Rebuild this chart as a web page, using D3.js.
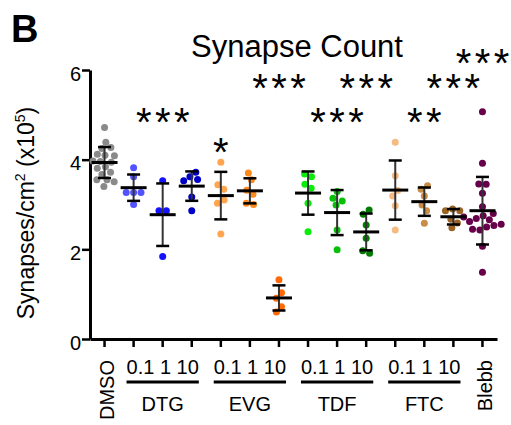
<!DOCTYPE html>
<html>
<head>
<meta charset="utf-8">
<script src="https://cdn.jsdelivr.net/npm/d3@7"></script>
<style>
  body { margin: 0; background: #fff; }
  text { font-family: "Liberation Sans", Arial, sans-serif; fill: #000; }
</style>
</head>
<body>
<svg id="chart"></svg>
<script>
// categories along the x axis
const groups = ["DMSO", "DTG 0.1", "DTG 1", "DTG 10", "EVG 0.1", "EVG 1", "EVG 10",
                "TDF 0.1", "TDF 1", "TDF 10", "FTC 0.1", "FTC 1", "FTC 10", "Blebb"];
const drugs = ["DTG", "EVG", "TDF", "FTC"];
const concLabels = ["0.1", "1", "10"];
const yTicks = [0, 2, 4, 6];

// synapses/cm2 (x10^5), one array per condition
const dmso  = [4.72, 4.39, 4.27, 4.25, 4.12, 4.10, 4.09, 3.97, 3.96, 3.94, 3.84, 3.81, 3.72, 3.67, 3.55, 3.55, 3.51, 3.40];
const dtg01 = [3.82, 3.62, 3.27, 3.27, 3.27, 3.00];
const dtg1  = [3.53, 2.86, 2.86, 1.84];
const dtg10 = [3.72, 3.62, 3.56, 3.53, 3.17, 2.86];
const evg01 = [3.94, 3.44, 3.34, 3.10, 3.03, 2.34];
const evg1  = [3.70, 3.55, 3.32, 3.23, 3.03, 3.00];
const evg10 = [1.32, 1.03, 0.91, 0.72, 0.60];
const tdf01 = [3.68, 3.62, 3.45, 3.36, 3.03, 2.39];
const tdf1  = [3.29, 3.14, 3.08, 2.99, 2.43, 1.99];
const tdf10 = [2.88, 2.78, 2.54, 2.25, 1.97, 1.91];
const ftc01 = [4.39, 3.64, 3.31, 3.19, 2.97, 2.43];
const ftc1  = [3.42, 3.34, 3.19, 2.99, 2.86, 2.58];
const ftc10 = [2.90, 2.86, 2.86, 2.67, 2.59, 2.48];
const blebb = [5.07, 3.92, 3.46, 3.45, 3.25, 2.95, 2.80, 2.75, 2.72, 2.69, 2.66, 2.62, 2.56, 2.53, 2.50, 2.45, 2.43, 2.07, 1.49];
const series = [dmso, dtg01, dtg1, dtg10, evg01, evg1, evg10, tdf01, tdf1, tdf10, ftc01, ftc1, ftc10, blebb];

const colors = ["#8a8a8a", "#5252ff", "#1212ff", "#0000c8", "#ffa54f", "#ff8a1c", "#ff6a06",
                "#0aec0a", "#08c008", "#047a04", "#f6bb82", "#c98d4a", "#9a6425", "#67004a"];

// significance marks
const starGroups = ["DTG 1", "EVG 0.1", "EVG 10", "TDF 1", "TDF 10", "FTC 1", "FTC 10", "Blebb"];
const starText   = ["***", "*", "***", "***", "***", "**", "***", "***"];
const starLevel  = [4.95, 4.28, 5.71, 4.95, 5.71, 4.95, 5.71, 6.27];

const W = 511, H = 425;
const margin = {top: 70, right: 14, bottom: 86, left: 90};
const width = W - margin.left - margin.right;
const height = H - margin.top - margin.bottom;
const radius = 3.5;

const svg = d3.select("#chart").attr("width", W).attr("height", H);
const g = svg.append("g").attr("transform", `translate(${margin.left},${margin.top})`);

const x = d3.scaleBand().domain(groups).range([0, width]);
const y = d3.scaleLinear().domain([0, 6]).range([height, 0]);
const cx = d => x(d) + x.bandwidth() / 2;

// panel letter + title
svg.append("text").attr("x", 11).attr("y", 42)
    .attr("font-size", 38).attr("font-weight", "bold").text("B");
svg.append("text").attr("x", 297).attr("y", 57)
    .attr("text-anchor", "middle").attr("font-size", 31).text("Synapse Count");

// y axis
const yAxis = g.append("g")
    .call(d3.axisLeft(y).tickValues(yTicks).tickFormat(d3.format("d"))
        .tickSize(8).tickSizeOuter(0).tickPadding(1));
yAxis.attr("font-family", null).attr("font-size", 20);
yAxis.select(".domain").attr("stroke-width", 3).attr("stroke", "#000");
yAxis.selectAll(".tick line").attr("stroke-width", 2.5).attr("stroke", "#000");
yAxis.selectAll(".tick text").attr("dy", "0.5em").attr("fill", "#000");

// y label with superscripts
const yLab = svg.append("text")
    .attr("transform", "translate(34,213) rotate(-90)")
    .attr("text-anchor", "middle").attr("font-size", 23);
yLab.append("tspan").text("Synapses/cm");
yLab.append("tspan").attr("font-size", 14).attr("dy", -9).text("2");
yLab.append("tspan").attr("dy", 9).text(" (x10");
yLab.append("tspan").attr("font-size", 14).attr("dy", -9).text("5");
yLab.append("tspan").attr("dy", 9).text(")");

// x axis
const xAxis = g.append("g").attr("transform", `translate(0,${height})`)
    .call(d3.axisBottom(x).tickSize(8).tickSizeOuter(0).tickFormat(""));
xAxis.select(".domain").attr("stroke-width", 3).attr("stroke", "#000");
xAxis.selectAll(".tick line").attr("stroke-width", 2.5).attr("stroke", "#000");

// rotated labels for DMSO and Blebb
["DMSO", "Blebb"].forEach(name => {
    g.append("text")
        .attr("transform", `translate(${cx(name) + 9.5},${height + 21}) rotate(-90)`)
        .attr("text-anchor", "end").attr("font-size", 20).text(name);
});

// concentration labels, underline, drug name
drugs.forEach(drug => {
    const mid = cx(drug + " 1");
    const t = g.append("text").attr("x", mid).attr("y", height + 35)
        .attr("text-anchor", "middle").attr("font-size", 20)
        .text(concLabels.join(" "));
    const bb = t.node().getBBox();
    g.append("line")
        .attr("x1", bb.x).attr("x2", bb.x + bb.width)
        .attr("y1", height + 43).attr("y2", height + 43)
        .attr("stroke", "#000").attr("stroke-width", 3);
    g.append("text").attr("x", mid).attr("y", height + 72)
        .attr("text-anchor", "middle").attr("font-size", 20).text(drug);
});

// scatter points, spread sideways with a collision force
const nodes = [];
groups.forEach((grp, i) => {
    series[i].forEach(v => nodes.push({grp: grp, i: i, v: v, x: cx(grp), y: y(v), fy: y(v)}));
});
const sim = d3.forceSimulation(nodes)
    .force("x", d3.forceX(d => cx(d.grp)).strength(0.1))
    .force("collide", d3.forceCollide(radius + 0.2))
    .stop();
for (let k = 0; k < 300; k++) sim.tick();

g.append("g").selectAll("circle")
    .data(nodes)
    .join("circle")
    .attr("cx", d => d.x)
    .attr("cy", d => d.fy)
    .attr("r", radius)
    .attr("fill", d => colors[d.i]);

// mean +/- SD
const stats = groups.map((grp, i) => ({
    grp: grp, mean: d3.mean(series[i]), sd: d3.deviation(series[i])
}));
const bars = g.append("g").selectAll("g").data(stats).join("g");
bars.append("line")
    .attr("x1", d => cx(d.grp)).attr("x2", d => cx(d.grp))
    .attr("y1", d => y(d.mean + d.sd)).attr("y2", d => y(d.mean - d.sd))
    .attr("stroke", "#333").attr("stroke-width", 2);
[1, -1].forEach(s => {
    bars.append("line")
        .attr("x1", d => cx(d.grp) - 6.5).attr("x2", d => cx(d.grp) + 6.5)
        .attr("y1", d => y(d.mean + s * d.sd)).attr("y2", d => y(d.mean + s * d.sd))
        .attr("stroke", "#000").attr("stroke-width", 2.5);
});
bars.append("line")
    .attr("x1", d => cx(d.grp) - 13).attr("x2", d => cx(d.grp) + 13)
    .attr("y1", d => y(d.mean)).attr("y2", d => y(d.mean))
    .attr("stroke", "#000").attr("stroke-width", 3);

// stars, one glyph each, 19px apart
const starGap = 19;
g.append("g").selectAll("g")
    .data(starGroups.map((grp, i) => ({grp: grp, chars: starText[i].split(""), level: starLevel[i]})))
    .join("g")
    .selectAll("text")
    .data(d => d.chars.map((c, k) => ({c: c, x: cx(d.grp) + (k - (d.chars.length - 1) / 2) * starGap, y: y(d.level)})))
    .join("text")
    .attr("x", d => d.x)
    .attr("y", d => d.y + 19)
    .attr("text-anchor", "middle")
    .attr("font-size", 40)
    .text(d => d.c);
</script>
</body>
</html>
